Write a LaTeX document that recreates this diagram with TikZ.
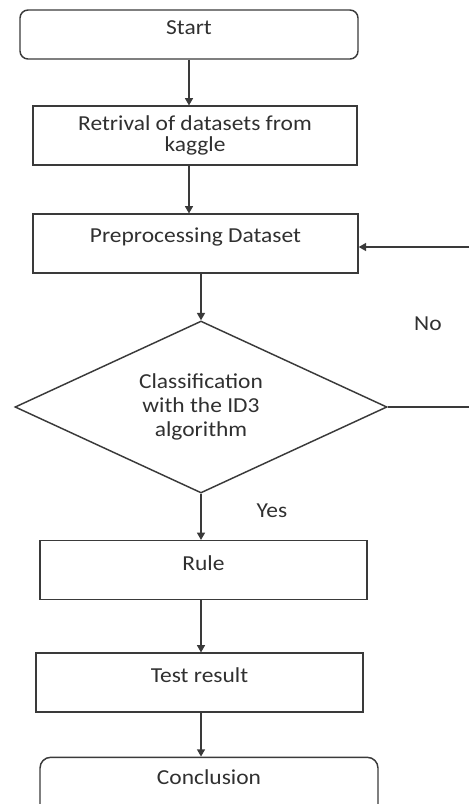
\documentclass[tikz,border=0pt]{standalone}
\usepackage{fontspec}
\setmainfont{Carlito}[FakeStretch=1.1]
\usetikzlibrary{shapes.geometric,arrows.meta}
\definecolor{linegray}{HTML}{3A3A3A}
\definecolor{textgray}{HTML}{303030}
\tikzset{
  box/.style={draw=linegray,line width=1.1pt,minimum width=#1,minimum height=44pt,inner sep=0pt,text=textgray},
  upbox/.style={box=#1,text depth=13pt},
  arr/.style={draw=linegray,line width=1.1pt,-{Triangle[width=6pt,length=5.5pt]}},
  lbl/.style={text=textgray}
}
\begin{document}
\begin{tikzpicture}[x=0.75pt,y=-0.75pt,font=\fontsize{16}{18}\selectfont]
\useasboundingbox (0,0) rectangle (469,804);
\node[box=253.5pt,rounded corners=6pt,minimum height=36.75pt,text depth=10pt] (start) at (189,34.5) {Start};
\node[box=243pt,align=center,font=\fontsize{16}{16}\selectfont] (retr) at (195,135.5) {Retrival of datasets from\\kaggle};
\node[upbox=243.75pt] (prep) at (195.5,243.5) {Preprocessing Dataset};
\node[draw=linegray,line width=1.1pt,diamond,aspect=2.16,minimum width=279pt,minimum height=129pt,inner sep=0pt,align=center,text=textgray] (dec) at (201,407) {Classification\\with the ID3\\algorithm};
\node[upbox=245.25pt,text depth=11pt] (rule) at (203.5,570) {Rule};
\node[upbox=245.25pt,text depth=11pt] (test) at (199.5,682.5) {Test result};
\node[upbox=253.5pt,rounded corners=8pt,minimum height=52pt,text depth=22pt] (concl) at (209,792) {Conclusion};
\node[lbl] (no) at (428,324) {No};
\node[lbl] (yes) at (272,511) {Yes};
\coordinate (edgeA) at (469,247);
\coordinate (edgeB) at (469,407);

\draw[arr] (start.south) -- (start.south |- retr.north);
\draw[arr] (retr.south -| start) -- (prep.north -| start);
\draw[arr] (prep.south -| dec) -- (dec.north);
\draw[arr] (dec.south) -- (dec.south |- rule.north);
\draw[arr] (rule.south -| dec) -- (test.north -| dec);
\draw[arr] (test.south -| dec) -- (concl.north -| dec);
\draw[arr] (edgeA) -- (edgeA -| prep.east);
\draw[draw=linegray,line width=1.1pt] (dec.east) -- (edgeB);
\end{tikzpicture}
\end{document}
